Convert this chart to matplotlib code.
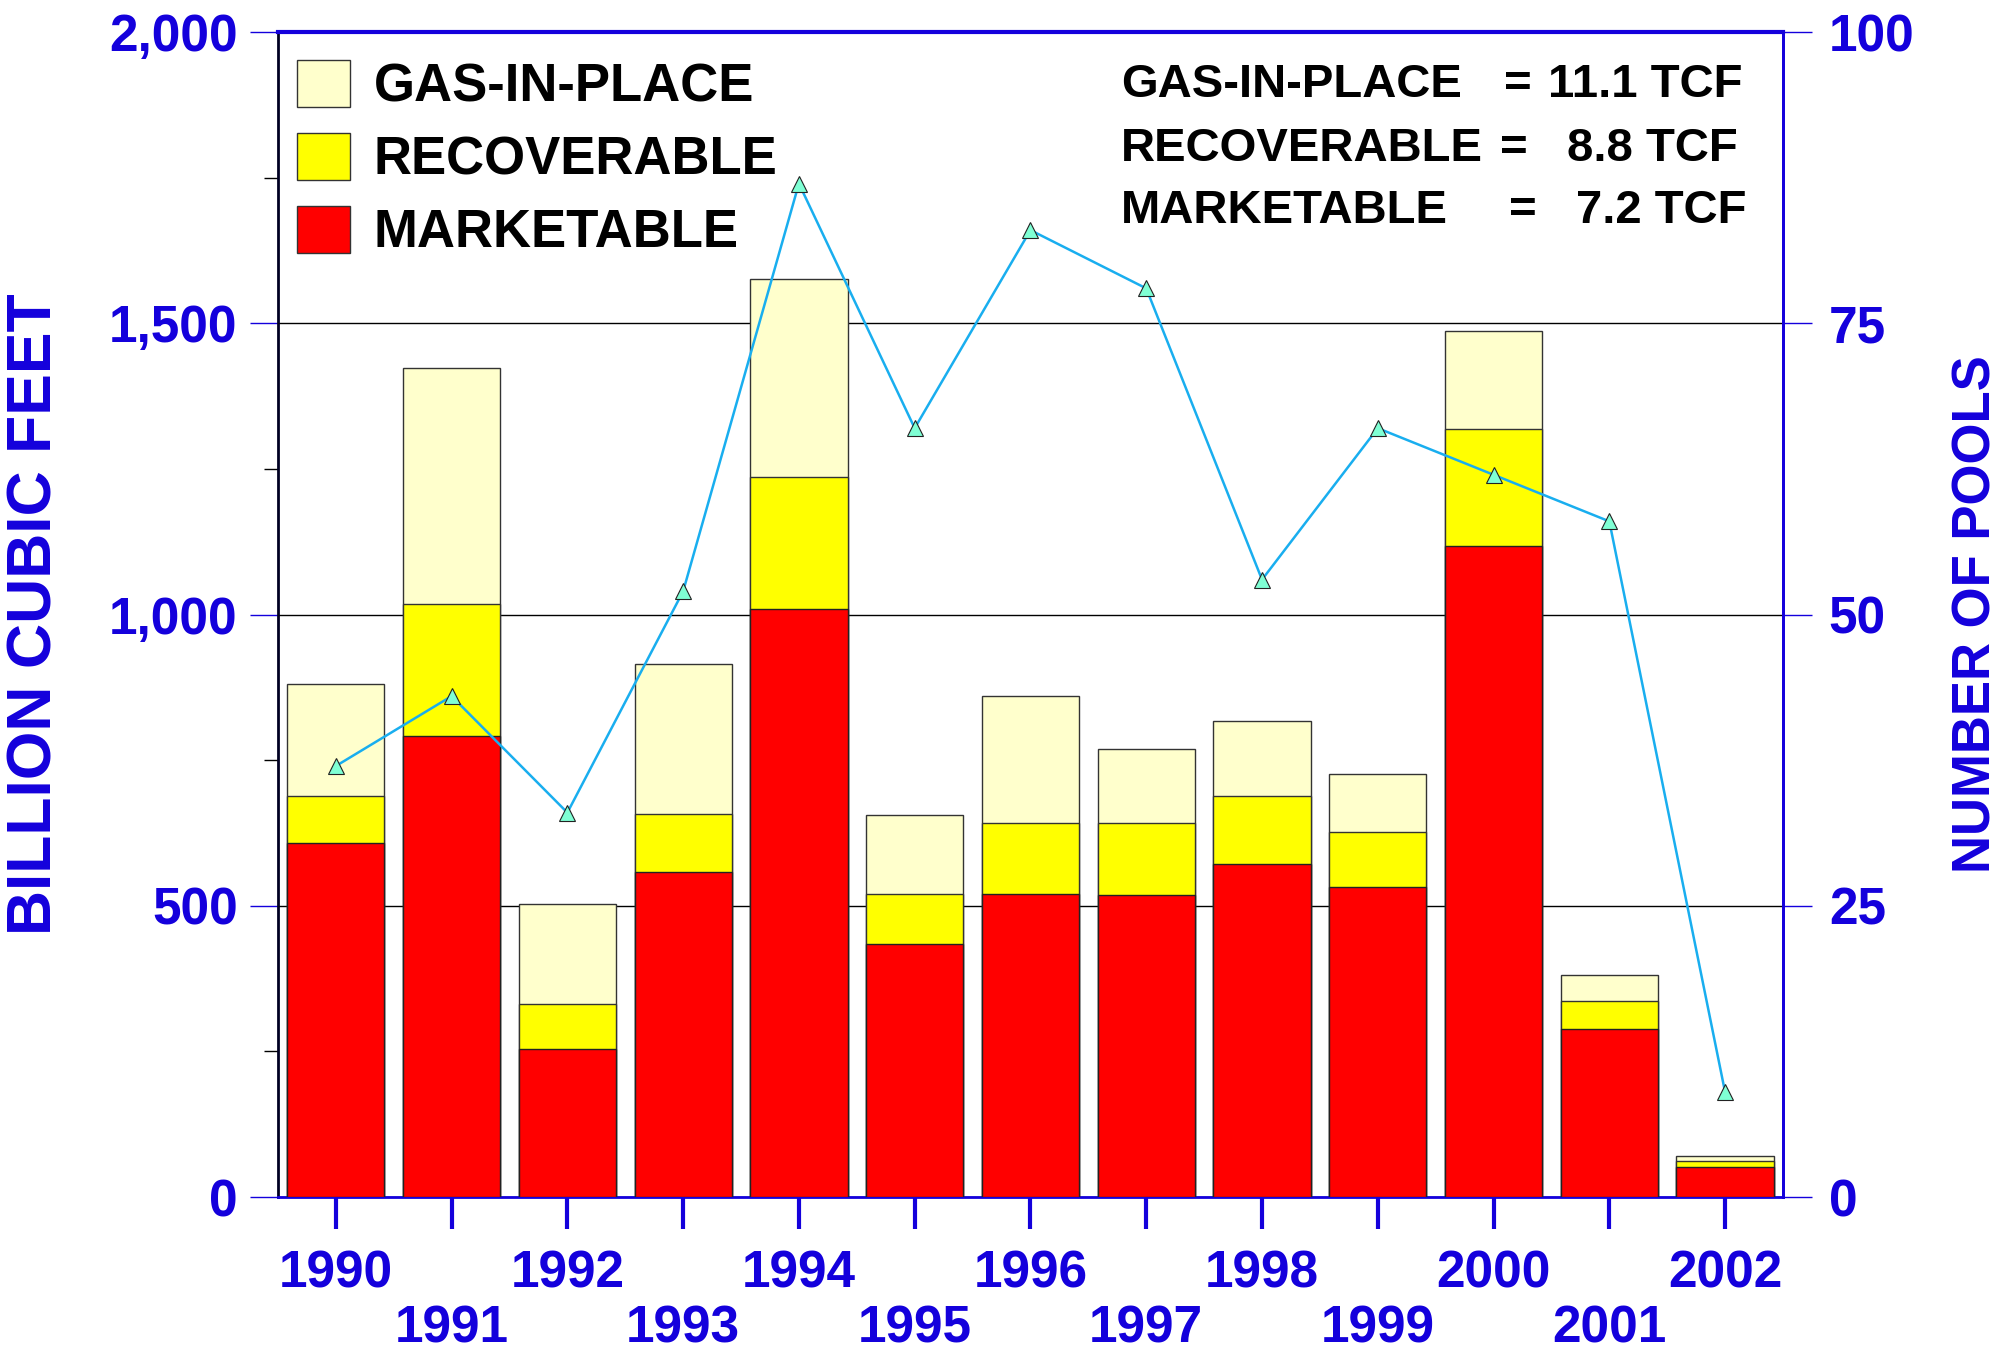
import numpy as np
import matplotlib
matplotlib.use('Agg')
import matplotlib.pyplot as plt
from matplotlib.patches import Patch

# datos
years = [1990, 1991, 1992, 1993, 1994, 1995, 1996, 1997, 1998, 1999, 2000, 2001, 2002]
gas_in_place = [881, 1424, 503, 916, 1576, 656, 861, 770, 817, 726, 1486, 382, 71]
recoverable = [689, 1018, 331, 658, 1236, 521, 642, 642, 689, 627, 1318, 336, 62]
marketable = [607, 792, 254, 558, 1009, 435, 521, 519, 572, 532, 1117, 289, 52]
pools = [37, 43, 33, 52, 87, 66, 83, 78, 53, 66, 62, 58, 9]

left_ticks = [0, 500, 1000, 1500, 2000]
left_labels = ['0', '500', '1,000', '1,500', '2,000']
right_ticks = [0, 25, 50, 75, 100]
totals = [('GAS-IN-PLACE', '11.1 TCF'), ('RECOVERABLE', '8.8 TCF'), ('MARKETABLE', '7.2 TCF')]

BLUE = '#1400DC'
plt.rcParams['font.family'] = ['Liberation Sans', 'DejaVu Sans']
plt.rcParams['font.weight'] = 'bold'

fig = plt.figure(figsize=(20.14, 13.54), dpi=100)
ax = fig.add_axes([0.138, 0.1159, 0.7473, 0.8604])
x = np.arange(len(years))

# barras superpuestas desde cero
ax.bar(x, gas_in_place, width=0.84, color='#FFFFCC', edgecolor='#333333', linewidth=1, zorder=3)
ax.bar(x, recoverable, width=0.84, color='#FFFF00', edgecolor='#333333', linewidth=1, zorder=3)
ax.bar(x, marketable, width=0.84, color='#FF0000', edgecolor='#222222', linewidth=1, zorder=3)

ax.set_xlim(-0.5, 12.5)
ax.set_ylim(0, 2000)
ax.set_yticks(left_ticks)
ax.set_yticklabels(left_labels)
ax.set_yticks([250, 750, 1250, 1750], minor=True)
ax.grid(axis='y', which='major', color='black', linewidth=1)
ax.set_axisbelow(True)
ax.tick_params(axis='y', which='major', length=20, width=1, color=BLUE,
               labelcolor=BLUE, labelsize=37, pad=9)
ax.tick_params(axis='y', which='minor', length=10, width=1, color='black')

ax.set_xticks(x)
ax.set_xticklabels([str(y) if i % 2 == 0 else '\n' + str(y) for i, y in enumerate(years)])
ax.tick_params(axis='x', length=23, width=3, color=BLUE, labelcolor=BLUE,
               labelsize=37, pad=15)
for lab in ax.get_xticklabels():
    lab.set_linespacing(1.15)

ax.set_ylabel('BILLION CUBIC FEET', color=BLUE, fontsize=45, fontweight='bold')
ax.yaxis.set_label_coords(-0.142, 0.5)

ax.spines['left'].set_color('#000022')
ax.spines['left'].set_linewidth(2)
ax.spines['top'].set_color(BLUE)
ax.spines['top'].set_linewidth(3)
ax.spines['bottom'].set_color(BLUE)
ax.spines['bottom'].set_linewidth(2)
ax.spines['right'].set_color(BLUE)
ax.spines['right'].set_linewidth(2)

# leyenda
handles = [Patch(facecolor='#FFFFCC', edgecolor='#333333', label='GAS-IN-PLACE'),
           Patch(facecolor='#FFFF00', edgecolor='#333333', label='RECOVERABLE'),
           Patch(facecolor='#FF0000', edgecolor='#333333', label='MARKETABLE')]
ax.legend(handles=handles, loc='upper left', bbox_to_anchor=(0.0126, 0.976),
          frameon=False, fontsize=38, handlelength=1.0, handleheight=1.0,
          handletextpad=0.45, labelspacing=0.38, borderpad=0, borderaxespad=0)

# totales
rows_y = [0.955, 0.900, 0.846]
eq_x = [0.824, 0.821, 0.827]
val_x = [0.973, 0.970, 0.976]
for (name, val), yy, ex, vx in zip(totals, rows_y, eq_x, val_x):
    ax.text(0.560, yy, name, transform=ax.transAxes, fontsize=34, va='center', ha='left')
    ax.text(ex, yy, '=', transform=ax.transAxes, fontsize=34, va='center', ha='center')
    ax.text(vx, yy, val, transform=ax.transAxes, fontsize=34, va='center', ha='right')

# eje derecho: numero de pozos
ax2 = ax.twinx()
ax2.plot(x, pools, color='#19AEEF', linewidth=1.8, marker='^', markersize=11,
         markerfacecolor='#7FFFD4', markeredgecolor='#222222', markeredgewidth=0.8, zorder=5)
ax2.set_xlim(-0.5, 12.5)
ax2.set_ylim(0, 100)
ax2.set_yticks(right_ticks)
ax2.tick_params(axis='y', length=21, width=1, color=BLUE, labelcolor=BLUE,
                labelsize=37, pad=12)
ax2.set_ylabel('NUMBER OF POOLS', color=BLUE, fontsize=38, fontweight='bold')
ax2.yaxis.set_label_coords(1.112, 0.5)
for s in ['left', 'top', 'bottom']:
    ax2.spines[s].set_visible(False)
ax2.spines['right'].set_color(BLUE)
ax2.spines['right'].set_linewidth(2)

fig.savefig('out.png', dpi=100)
